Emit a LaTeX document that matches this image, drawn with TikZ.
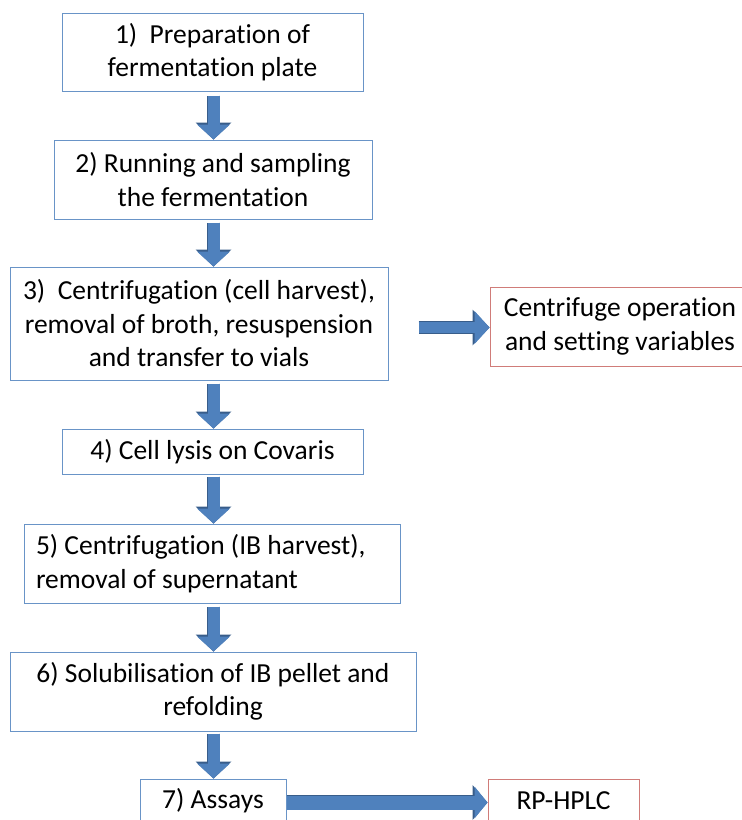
\documentclass[tikz,border=0pt]{standalone}
\usepackage{fontspec}
\setmainfont{Carlito}[Ligatures=NoCommon, RawFeature={-calt}]
\usepackage{tikz}
\usetikzlibrary{arrows.meta,positioning}
\definecolor{stepblue}{RGB}{79,129,189}
\definecolor{arrowedge}{RGB}{56,93,138}
\definecolor{extrared}{RGB}{192,80,77}

\begin{document}
\begin{tikzpicture}[
    x=1pt, y=-1pt,
    every node/.style={font=\fontsize{27.5}{33.5}\selectfont},
    stepbox/.style={draw=stepblue!85, line width=1pt, align=center, inner sep=0pt},
    extrabox/.style={draw=extrared!75, line width=1pt, align=center, inner sep=0pt},
    flow/.style={draw=stepblue, line width=12pt, -{Triangle[width=33pt, length=15pt, line width=0pt]},
        preaction={draw=arrowedge, line width=13.6pt, -{Triangle[width=36pt, length=17pt, line width=0pt]}}},
    wideflow/.style={draw=stepblue, line width=14pt, -{Triangle[width=32pt, length=13pt, line width=0pt]},
        preaction={draw=arrowedge, line width=15.6pt, -{Triangle[width=35pt, length=15pt, line width=0pt]}}},
]
\useasboundingbox (0,0) rectangle (742,820);

\node[stepbox, minimum width=301pt, minimum height=78pt] (prep) at (212.5,52) {1)\ \ Preparation of\\fermentation plate};
\node[stepbox, minimum width=318pt, minimum height=79pt] (run) at (213,179.5) {2) Running and sampling\\the fermentation};
\node[stepbox, minimum width=378pt, minimum height=113pt] (harvest) at (199,323.5) {3)\ \ Centrifugation (cell harvest),\\removal of broth, resuspension\\and transfer to vials};
\node[stepbox, minimum width=301pt, minimum height=45pt] (lysis) at (212.5,451.5) {4) Cell lysis on Covaris};
\node[stepbox, align=flush left, text width=352pt, inner xsep=12pt, minimum height=79pt] (ibharvest) at (212,563.5) {5) Centrifugation (IB harvest),\\removal of supernatant};
\node[stepbox, minimum width=406pt, minimum height=79pt] (refold) at (213,691.5) {6) Solubilisation of IB pellet and\\refolding};
\node[stepbox, minimum width=146pt, minimum height=44pt] (assays) at (213,801) {7) Assays};

\node[extrabox, minimum width=260pt, minimum height=79pt] (variables) at (620,326.5) {Centrifuge operation\\and setting variables};
\node[extrabox, minimum width=151pt, minimum height=44pt] (hplc) at (563.5,801) {RP-HPLC};

% main flow
\coordinate (spine) at (213.5,0);
\draw[flow, shorten <=4pt] (prep.south -| spine) -- (run.north -| spine);
\draw[flow, shorten <=3pt] (run.south -| spine) -- (harvest.north -| spine);
\draw[flow, shorten <=3pt] (harvest.south -| spine) -- (lysis.north -| spine);
\draw[flow, shorten <=2pt] (lysis.south -| spine) -- (ibharvest.north -| spine);
\draw[flow, shorten <=3pt] (ibharvest.south -| spine) -- (refold.north -| spine);
\draw[flow, shorten <=2pt] (refold.south -| spine) -- (assays.north -| spine);

% side branches
\draw[flow, line width=11pt, shorten <=30pt] (harvest.east |- 0,327.5) -- (variables.west |- 0,327.5);
\draw[wideflow] (assays.east |- 0,802.5) -- (hplc.west |- 0,802.5);
\end{tikzpicture}
\end{document}
